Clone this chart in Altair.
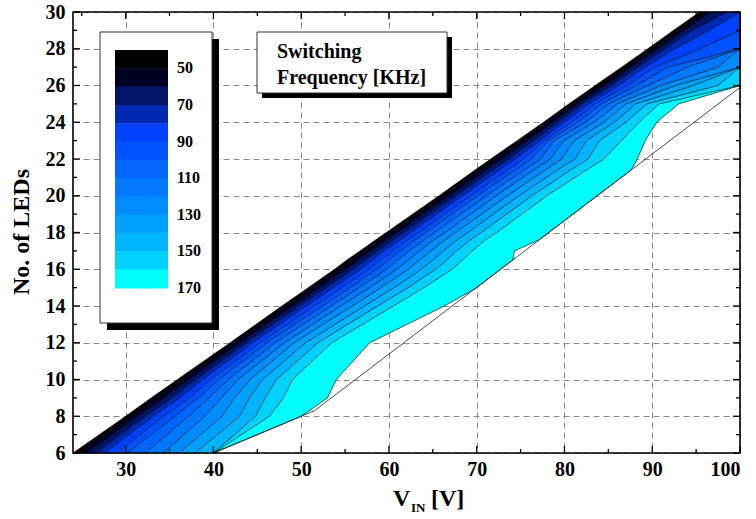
import altair as alt
import pandas as pd

# ---------------- data ----------------
leds = [6, 8, 9, 10, 12, 14, 15, 16, 16.5, 17, 17.6, 18, 20, 21.4, 22, 23, 24, 25, 26, 27, 28, 29, 30]
v_min = [24.0, 30.0, 32.9, 35.9, 41.9, 47.8, 50.8, 53.8, 55.2, 56.7, 58.5, 59.7, 65.7, 69.8, 71.6, 74.6, 77.6, 80.5, 83.5, 86.5, 89.5, 92.4, 95.4]
c50 = [24.6, 30.6, 33.5, 36.4, 42.4, 48.3, 51.3, 54.3, 55.7, 57.2, 59.0, 60.2, 66.2, 70.3, 72.1, 75.1, 78.0, 80.9, 84.1, 87.1, 90.1, 93.0, 96.0]
c60 = [25.6, 31.4, 34.4, 37.2, 43.1, 49.1, 52.1, 55.1, 56.5, 58.0, 59.8, 61.0, 66.9, 71.1, 72.9, 75.8, 78.7, 81.5, 84.7, 87.7, 90.7, 93.7, 96.7]
c70 = [26.6, 32.3, 35.3, 38.0, 43.8, 49.8, 52.9, 55.9, 57.3, 58.8, 60.5, 61.7, 67.7, 71.8, 73.7, 76.5, 79.3, 82.1, 85.4, 88.4, 91.5, 94.6, 98.5]
c80 = [27.6, 33.2, 36.2, 38.8, 44.5, 50.6, 53.7, 56.8, 58.1, 59.5, 61.3, 62.5, 68.4, 72.6, 74.4, 77.2, 80.0, 82.8, 86.2, 89.2, 92.6, 96.5, 100.0]
c90 = [29.0, 34.3, 37.3, 39.7, 45.3, 51.5, 54.6, 57.7, 59.0, 60.4, 62.1, 63.4, 69.3, 73.5, 75.3, 77.7, 80.8, 83.5, 87.1, 90.3, 95.5, 100.0, 100.0]
c100 = [30.2, 35.6, 38.3, 40.6, 46.1, 52.4, 55.6, 58.6, 60.0, 61.3, 63.0, 64.2, 70.1, 74.4, 76.2, 78.2, 81.5, 84.2, 88.2, 91.8, 100.0, 100.0, 100.0]
c110 = [32.2, 37.2, 39.5, 41.7, 47.0, 53.4, 56.6, 59.7, 61.0, 62.3, 64.0, 65.2, 71.1, 75.4, 77.3, 78.8, 82.4, 85.0, 89.5, 94.0, 100.0, 100.0, 100.0]
c120 = [34.3, 39.0, 40.9, 42.8, 48.1, 54.5, 57.8, 60.9, 62.2, 63.5, 65.1, 66.4, 72.2, 76.5, 78.4, 79.9, 83.4, 86.0, 91.0, 97.5, 100.0, 100.0, 100.0]
c130 = [36.1, 41.0, 42.4, 44.2, 49.2, 55.8, 59.1, 62.2, 63.5, 64.8, 66.4, 67.6, 73.5, 77.8, 79.7, 81.1, 84.5, 87.0, 92.7, 100.0, 100.0, 100.0, 100.0]
c140 = [37.9, 43.0, 44.1, 45.6, 50.5, 57.2, 60.6, 63.7, 65.0, 66.2, 67.8, 69.0, 74.8, 79.2, 81.2, 82.5, 85.7, 88.1, 94.7, 100.0, 100.0, 100.0, 100.0]
c150 = [40.0, 44.8, 45.9, 47.2, 51.9, 58.7, 62.2, 65.3, 66.6, 67.7, 69.3, 70.5, 76.3, 80.7, 82.7, 84.0, 87.0, 89.4, 97.5, 100.0, 100.0, 100.0, 100.0]
c160 = [40.0, 46.4, 48.0, 49.0, 53.5, 60.5, 64.0, 67.2, 68.4, 69.5, 71.0, 72.3, 78.0, 82.5, 84.5, 86.5, 88.5, 90.8, 100.0, 100.0, 100.0, 100.0, 100.0]
c170 = [40.0, 50.0, 53.0, 54.0, 57.8, 66.3, 70.0, 72.7, 74.1, 74.3, 77.1, 78.2, 83.7, 87.6, 88.3, 89.2, 90.5, 93.0, 100.0, 100.0, 100.0, 100.0, 100.0]
levels = [50, 60, 70, 80, 90, 100, 110, 120, 130, 140, 150, 160, 170]

boundary_v = [40.0, 51.5, 100.0]
boundary_n = [6.0, 8.3, 25.9]

band_colors = ["#000000", "#000022", "#001466", "#0028b0", "#0040ff", "#0052ff",
               "#0066ff", "#0078ff", "#008cff", "#00a0ff", "#00b4ff", "#00d2ff", "#00ffff"]
legend_labels = [50, 70, 90, 110, 130, 150, 170]

x_major = [30, 40, 50, 60, 70, 80, 90, 100]
x_minor = [25, 35, 45, 55, 65, 75, 85, 95]
y_major = [6, 8, 10, 12, 14, 16, 18, 20, 22, 24, 26, 28, 30]
y_minor = [7, 9, 11, 13, 15, 17, 19, 21, 23, 25, 27, 29]

# ---------------- layout ----------------
W, H = 667, 441
FONT = "Liberation Serif"
xs = alt.Scale(domain=[24, 100], nice=False, zero=False)
ys = alt.Scale(domain=[6, 30], nice=False, zero=False)
AX = alt.Axis(values=x_major, grid=True, gridDash=[6, 4], gridColor="#8a8a8a", gridWidth=1,
              ticks=False, domain=False, labelFont=FONT, labelFontWeight="bold",
              labelFontSize=20, labelPadding=6, labelColor="black", title=None)
AY = alt.Axis(values=y_major, grid=True, gridDash=[6, 4], gridColor="#8a8a8a", gridWidth=1,
              ticks=False, domain=False, labelFont=FONT, labelFontWeight="bold",
              labelFontSize=20, labelPadding=8, labelColor="black", title=None)

edges = [v_min, c50, c60, c70, c80, c90, c100, c110, c120, c130, c140, c150, c160, c170]
band_rows = []
for k in range(len(edges) - 1):
    for i, n in enumerate(leds):
        band_rows.append({"band": k, "N": n, "lo": edges[k][i], "hi": edges[k + 1][i]})
bands = pd.DataFrame(band_rows)

line_rows = []
for k, lev in enumerate(levels):
    for i, n in enumerate(leds):
        line_rows.append({"level": lev, "N": n, "v": edges[k + 1][i]})
lines = pd.DataFrame(line_rows)

band_scale = alt.Scale(domain=list(range(13)), range=band_colors)

area = alt.Chart(bands).mark_area(orient="horizontal", strokeWidth=0.6).encode(
    y=alt.Y("N:Q", scale=ys, axis=AY),
    x=alt.X("lo:Q", scale=xs, axis=AX),
    x2="hi:Q",
    color=alt.Color("band:O", scale=band_scale, legend=None),
    stroke=alt.Stroke("band:O", scale=band_scale, legend=None),
)

contours = alt.Chart(lines).mark_line(color="black", strokeWidth=0.6).encode(
    x=alt.X("v:Q", scale=xs, axis=AX),
    y=alt.Y("N:Q", scale=ys, axis=AY),
    detail="level:N",
    order="N:Q",
)

bound = alt.Chart(pd.DataFrame({"v": boundary_v, "N": boundary_n})).mark_line(
    color="black", strokeWidth=0.7).encode(
    x=alt.X("v:Q", scale=xs, axis=AX), y=alt.Y("N:Q", scale=ys, axis=AY), order="N:Q")

layers = [area, contours, bound]

# ticks (inward, all four sides)
def xticks(vals, length):
    d = pd.DataFrame({"t": vals})
    b = alt.Chart(d).mark_rule(color="black", strokeWidth=1.3).encode(
        x=alt.X("t:Q", scale=xs, axis=AX), y=alt.value(H), y2=alt.value(H - length))
    t = alt.Chart(d).mark_rule(color="black", strokeWidth=1.3).encode(
        x=alt.X("t:Q", scale=xs, axis=AX), y=alt.value(0), y2=alt.value(length))
    return [b, t]

def yticks(vals, length):
    d = pd.DataFrame({"t": vals})
    l = alt.Chart(d).mark_rule(color="black", strokeWidth=1.3).encode(
        y=alt.Y("t:Q", scale=ys, axis=AY), x=alt.value(0), x2=alt.value(length))
    r = alt.Chart(d).mark_rule(color="black", strokeWidth=1.3).encode(
        y=alt.Y("t:Q", scale=ys, axis=AY), x=alt.value(W), x2=alt.value(W - length))
    return [l, r]

layers += xticks(x_major, 7) + xticks(x_minor, 4) + yticks(y_major, 7) + yticks(y_minor, 4)

one = pd.DataFrame({"a": [0]})

def rect(x0, y0, x1, y1, fill, stroke=None, sw=0):
    kw = {"fill": fill}
    if stroke:
        kw.update(stroke=stroke, strokeWidth=sw)
    else:
        kw.update(strokeWidth=0)
    return alt.Chart(one).mark_rect(**kw).encode(
        x=alt.value(x0), x2=alt.value(x1), y=alt.value(y0), y2=alt.value(y1))

def text(s, x, y, size, align="left", baseline="middle", angle=0, weight="bold"):
    kw = dict(font=FONT, fontSize=size, fontWeight=weight, align=align, baseline=baseline, color="black")
    if angle:
        kw["angle"] = angle
    return alt.Chart(one).mark_text(**kw).encode(
        x=alt.value(x), y=alt.value(y), text=alt.value(s))

# legend box
LX0, LY0, LX1, LY1 = 27, 20, 139, 311
layers.append(rect(LX0 + 7, LY0 + 7, LX1 + 7, LY1 + 7, "black"))
layers.append(rect(LX0, LY0, LX1, LY1, "white", "#333333", 1))
SX0, SX1, SY0, STEP = 42, 95, 38, 18.3
for k, col in enumerate(band_colors):
    layers.append(rect(SX0, SY0 + k * STEP, SX1, SY0 + (k + 1) * STEP + 0.5, col))
for j, lab in enumerate(legend_labels):
    layers.append(text(str(lab), 104, SY0 + (1 + 2 * j) * STEP, 16))

# title box
TX0, TY0, TX1, TY1 = 184, 20, 374, 81
layers.append(rect(TX0 + 5, TY0 + 5, TX1 + 5, TY1 + 5, "black"))
layers.append(rect(TX0, TY0, TX1, TY1, "white", "#333333", 1))
layers.append(text("Switching", 204, 40, 20))
layers.append(text("Frequency [KHz]", 204, 66, 20))

# frame
layers.append(alt.Chart(one).mark_rect(fill=None, stroke="black", strokeWidth=1.6).encode(
    x=alt.value(0), x2=alt.value(W), y=alt.value(0), y2=alt.value(H)))

# axis titles
layers.append(text("V", 320, 494, 24, baseline="alphabetic"))
layers.append(text("IN", 338, 500, 13, baseline="alphabetic"))
layers.append(text("[V]", 358, 494, 24, baseline="alphabetic"))
layers.append(text("No. of LEDs", -51, 220, 24, align="center", angle=270))

chart = alt.layer(*layers).properties(
    width=W, height=H,
    padding={"left": 73, "top": 12, "right": 16, "bottom": 66},
    autosize=alt.AutoSizeParams(type="none"),
    background="white",
).configure_view(stroke=None)

chart.save("out.html", embed_options={"renderer": "svg", "actions": False})
